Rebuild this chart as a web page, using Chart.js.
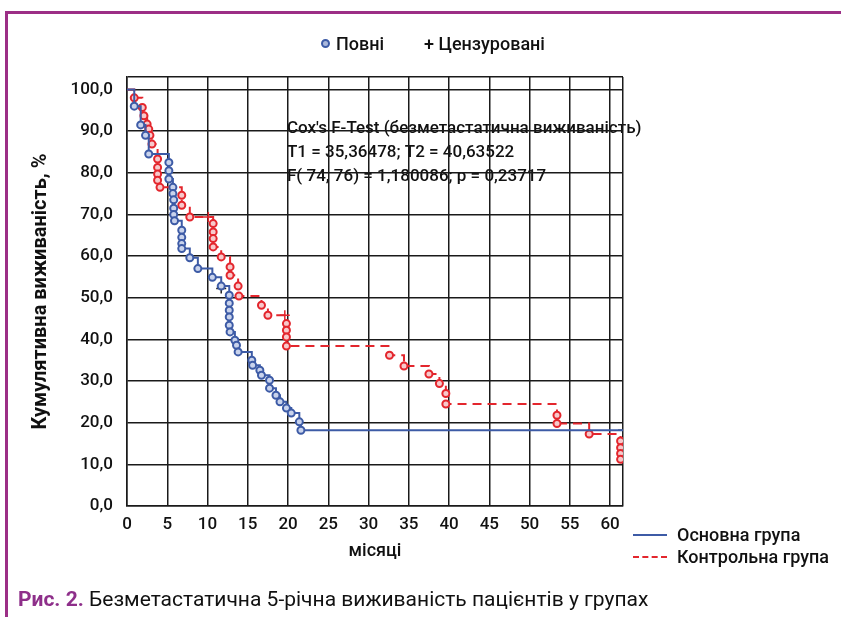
<!DOCTYPE html>
<html>
<head>
<meta charset="utf-8">
<script src="https://cdn.jsdelivr.net/npm/chart.js@4.4.0/dist/chart.umd.min.js"></script>
<style>
  html, body { margin: 0; padding: 0; background: #fff; }
  #wrap { position: relative; width: 841px; height: 617px; overflow: hidden; font-family: Roboto, sans-serif; color: #111; }
  #chart { position: absolute; left: 0; top: 0; }
  .frameTop { position: absolute; left: 5px; top: 11px; width: 836px; height: 3px; background: #9c2f86; }
  .frameLeft { position: absolute; left: 5px; top: 11px; width: 3px; height: 606px; background: #9c2f86; }
  .leg { position: absolute; font-size: 18px; line-height: 22px; white-space: nowrap; font-weight: 500; }
  .dot { position: absolute; width: 5px; height: 5px; border: 2px solid #3d5ba6; border-radius: 50%; background: #aab8dc; }
  .lineSample { position: absolute; width: 34px; height: 0; }
  .caption { position: absolute; left: 18px; top: 587px; font-size: 21px; line-height: 24px; white-space: nowrap; }
  .caption b { color: #8e2f8a; }
</style>
</head>
<body>
<div id="wrap">
  <canvas id="chart" width="841" height="617"></canvas>
  <div class="frameTop"></div>
  <div class="frameLeft"></div>

  <span class="dot" style="left:321px; top:39px;"></span>
  <span class="leg" style="left:336px; top:33px;">Повні</span>
  <span class="leg" style="left:424px; top:33px;">+ Цензуровані</span>

  <div class="lineSample" style="left:633px; top:534px; border-top:2px solid #3d5ba6;"></div>
  <span class="leg" style="left:677px; top:524px;">Основна група</span>
  <div class="lineSample" style="left:633px; top:556px; border-top:2px dashed #e3262d;"></div>
  <span class="leg" style="left:677px; top:546px;">Контрольна група</span>

  <div class="caption"><b>Рис. 2.</b> Безметастатична 5-річна виживаність пацієнтів у групах</div>
</div>

<script>
// months / cumulative survival, %
const mainT = [0, 0.9, 1.7, 2.3, 2.7, 5.2, 5.2, 5.2, 5.7, 5.7, 5.8, 5.8, 5.8, 5.9, 6.8, 6.8, 6.8, 6.8, 7.8, 8.8, 10.6, 11.7,
  12.7, 12.7, 12.7, 12.7, 12.7, 12.8, 13.4, 13.6, 13.8, 15.5, 15.6, 16.5, 16.7, 17.7, 17.7, 18.5, 19.0, 19.8, 20.4, 21.4, 21.6, 61.6];
const mainS = [100, 96, 91.5, 89, 84.5, 82.5, 80.5, 78.5, 76.5, 75, 73.5, 71.5, 70, 68.5, 66.2, 64.5, 63, 61.8, 59.6, 57, 54.9, 52.8,
  50.6, 48.7, 47, 45.4, 43.4, 41.8, 39.8, 38.6, 37, 35, 33.8, 32.6, 31.4, 30.2, 28.3, 26.6, 25, 23.5, 22.3, 20.2, 18.2, 18.2];

const controlT = [0, 0.9, 1.9, 2.1, 2.5, 2.7, 2.85, 3.1, 3.8, 3.8, 3.8, 3.8, 4.1, 6.8, 6.8, 7.8, 10.7, 10.7, 10.7, 10.7, 11.7,
  12.8, 12.8, 13.8, 13.9, 16.7, 17.5, 19.8, 19.8, 19.8, 19.8, 32.6, 34.4, 37.5, 38.8, 39.6, 39.6, 53.4, 53.4, 57.4, 61.3, 61.3, 61.3, 61.3];
const controlS = [100, 98, 95.7, 93.7, 91.7, 90.5, 89, 86.9, 83.3, 81.3, 79.7, 78.2, 76.5, 74.6, 72.2, 69.4, 67.8, 65.8, 64.2, 62.2, 59.8,
  57.4, 55.4, 52.8, 50.4, 48.2, 45.8, 43.8, 42.2, 40.6, 38.4, 36.2, 33.6, 31.7, 29.4, 27, 24.5, 21.8, 19.8, 17.3, 15.6, 14.0, 12.6, 11.2];

// censored observations
const mainCensT = [11.7, 61.6];
const mainCensS = [52.2, 18.2];
const controlCensT = [10.1, 19.6];
const controlCensS = [69.4, 45.8];

const xTicks = [0, 5, 10, 15, 20, 25, 30, 35, 40, 45, 50, 55, 60];
const yTicks = [0, 10, 20, 30, 40, 50, 60, 70, 80, 90, 100];
const xMax = 61.6, yMax = 103;

const coxLines = [
  "Cox's F-Test (безметастатична виживаність)",
  'T1 = 35,36478; T2 = 40,63522',
  'F( 74, 76) = 1,180086; p = 0,23717'
];

const BLUE = '#3d5ba6';
const RED = '#e3262d';

const pts = (t, s) => t.map((v, i) => ({ x: v, y: s[i] }));

const coxText = {
  id: 'coxText',
  beforeDraw(chart) {
    const { ctx, chartArea } = chart;
    ctx.save();
    ctx.fillStyle = '#111';
    ctx.font = '500 17px Roboto';
    ctx.textBaseline = 'middle';
    coxLines.forEach((l, i) => ctx.fillText(l, chartArea.left + 160, 129 + i * 24));
    ctx.restore();
  }
};

new Chart(document.getElementById('chart'), {
  type: 'line',
  data: {
    datasets: [
      {
        label: 'Основна група',
        data: pts(mainT, mainS),
        stepped: true,
        borderColor: BLUE,
        borderWidth: 2,
        pointStyle: 'circle',
        pointRadius: c => (c.dataIndex === 0 || c.dataIndex === mainT.length - 1) ? 0 : 3.5,
        pointBorderWidth: 2,
        pointBorderColor: BLUE,
        pointBackgroundColor: '#c9d3ec'
      },
      {
        label: 'Контрольна група',
        data: pts(controlT, controlS),
        stepped: true,
        borderColor: RED,
        borderWidth: 2,
        borderDash: [9, 6],
        pointStyle: 'circle',
        pointRadius: c => c.dataIndex === 0 ? 0 : 3.5,
        pointBorderWidth: 2,
        pointBorderColor: RED,
        pointBackgroundColor: '#f7c9cb'
      },
      {
        label: 'Цензуровані (осн.)',
        data: pts(mainCensT, mainCensS),
        showLine: false,
        pointStyle: 'cross',
        pointRadius: 5,
        pointBorderWidth: 1.5,
        pointBorderColor: '#222'
      },
      {
        label: 'Цензуровані (контр.)',
        data: pts(controlCensT, controlCensS),
        showLine: false,
        pointStyle: 'cross',
        pointRadius: 5,
        pointBorderWidth: 1.5,
        pointBorderColor: RED
      }
    ]
  },
  options: {
    responsive: false,
    animation: false,
    layout: { padding: { left: 25, top: 77, right: 218, bottom: 51 } },
    plugins: { legend: { display: false }, tooltip: { enabled: false } },
    scales: {
      x: {
        type: 'linear',
        min: 0,
        max: xMax,
        afterBuildTicks: s => { s.ticks = xTicks.concat([xMax]).map(v => ({ value: v })); },
        afterFit: s => { s.height = 60; },
        grid: { color: '#1a1a1a', lineWidth: 1.5, drawTicks: false },
        border: { color: '#1a1a1a', width: 1.5 },
        ticks: {
          autoSkip: false,
          maxRotation: 0,
          padding: 9,
          color: '#111',
          font: { family: 'Roboto', size: 17, weight: '500' },
          callback: v => xTicks.includes(v) ? String(v) : ''
        },
        title: { display: true, text: 'місяці', color: '#111', font: { family: 'Roboto', size: 18, weight: '500' } }
      },
      y: {
        min: 0,
        max: yMax,
        afterBuildTicks: s => { s.ticks = yTicks.concat([yMax]).map(v => ({ value: v })); },
        afterFit: s => { s.width = 102; },
        grid: { color: '#1a1a1a', lineWidth: 1.5, drawTicks: false },
        border: { color: '#1a1a1a', width: 1.5 },
        ticks: {
          padding: 14,
          color: '#111',
          font: { family: 'Roboto', size: 17, weight: '500' },
          callback: v => yTicks.includes(v) ? v.toFixed(1).replace('.', ',') : ''
        },
        title: { display: true, text: 'Кумулятивна виживаність, %', color: '#111', font: { family: 'Roboto', size: 20, weight: 'bold' } }
      }
    }
  },
  plugins: [coxText]
});
</script>
</body>
</html>
